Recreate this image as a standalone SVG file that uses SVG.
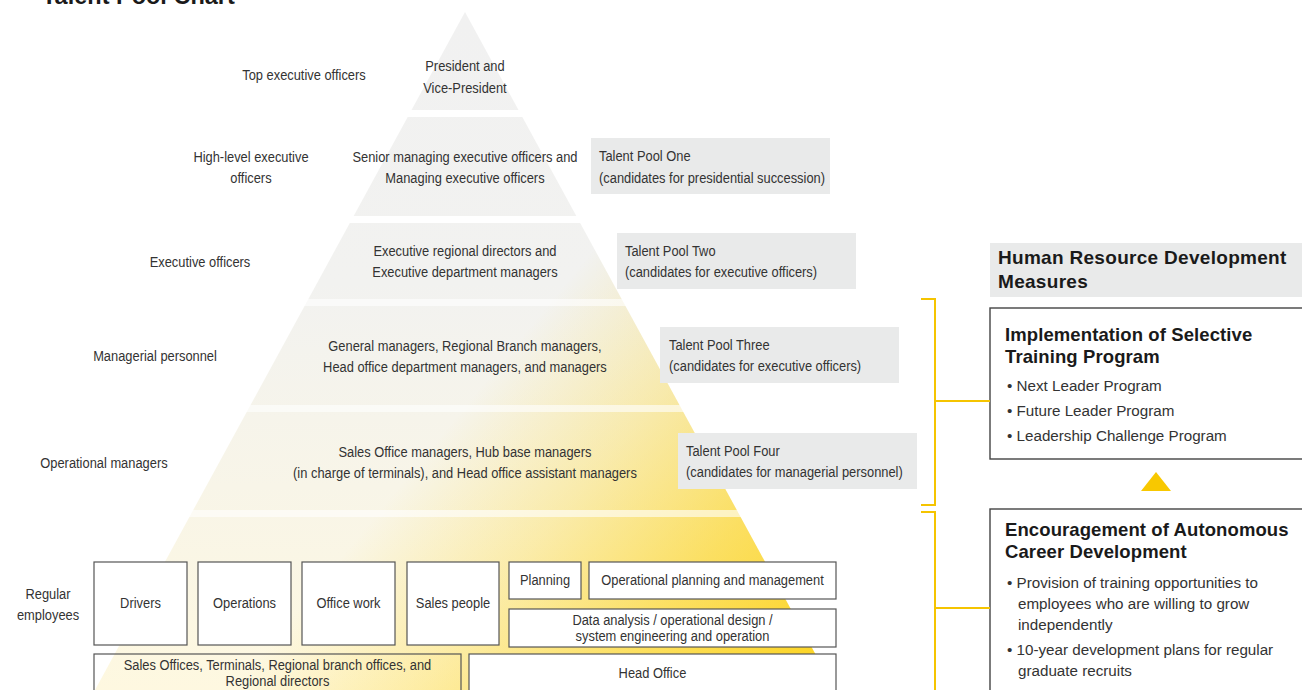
<svg xmlns="http://www.w3.org/2000/svg" width="1302" height="690" viewBox="0 0 1302 690">
  <style>
    .n { font-family: "Liberation Sans", Arial, sans-serif; font-size: 14px; fill: #333; }
    .c { text-anchor: middle; }
    .pool { fill: #e9eaea; }
    .box { fill: #fff; stroke: #555; stroke-width: 1.2; }
    .panel { fill: #fff; stroke: #444; stroke-width: 1.4; }
    .h { font-family: "Liberation Sans", Arial, sans-serif; font-weight: bold; fill: #1a1a1a; }
    .h1 { font-size: 19px; letter-spacing: 0.3px; }
    .h2 { font-size: 18.5px; letter-spacing: 0.1px; }
    .b { font-family: "Liberation Sans", Arial, sans-serif; font-size: 15.2px; fill: #333; }
    .brk { fill: none; stroke: #f5c400; stroke-width: 2; }
    .gap { fill: #fff; }
    .gap2 { fill: #fff; opacity: 0.6; }
  </style>
  <defs>
    <linearGradient id="baseGrad" gradientUnits="userSpaceOnUse" x1="0" y1="12" x2="0" y2="690">
      <stop offset="0" stop-color="#f1f1f1"/>
      <stop offset="0.4" stop-color="#f2f2f0"/>
      <stop offset="1" stop-color="#fef8e0"/>
    </linearGradient>
    <linearGradient id="goldGrad" gradientUnits="userSpaceOnUse" x1="380" y1="330" x2="820" y2="690">
      <stop offset="0" stop-color="#fcd31c" stop-opacity="0"/>
      <stop offset="0.2" stop-color="#fcd31c" stop-opacity="0"/>
      <stop offset="0.45" stop-color="#fcd31c" stop-opacity="0.3"/>
      <stop offset="0.7" stop-color="#fcd31c" stop-opacity="0.65"/>
      <stop offset="1" stop-color="#fcd31c" stop-opacity="1"/>
    </linearGradient>
  </defs>

  <rect width="1302" height="690" fill="#fff"/>

  <!-- heading, mostly above the top edge -->
  <text x="42" y="4" font-family="Liberation Sans, Arial, sans-serif" font-weight="bold" font-size="23.5" fill="#1a1a1a">Talent Pool Chart</text>

  <!-- pyramid body -->
  <g id="pyramid">
    <polygon points="465,12 95,690 835,690" fill="url(#baseGrad)"/>
    <polygon points="465,12 95,690 835,690" fill="url(#goldGrad)"/>
    <rect class="gap" x="0" y="110" width="900" height="7"/>
    <rect class="gap" x="0" y="216" width="900" height="7"/>
    <rect class="gap2" x="0" y="299" width="900" height="7"/>
    <rect class="gap2" x="0" y="405" width="900" height="7"/>
    <rect class="gap2" x="0" y="510" width="900" height="7"/>
  </g>

  <!-- condensed labels: x values are divided by the 0.92 horizontal scale -->
  <g id="level-labels" class="n">
    <g transform="scale(0.92,1)">
      <text class="c" x="330.4" y="80">Top executive officers</text>
      <text class="c" x="272.8" y="162">High-level executive</text>
      <text class="c" x="272.8" y="183">officers</text>
      <text class="c" x="217.4" y="267">Executive officers</text>
      <text class="c" x="168.5" y="361">Managerial personnel</text>
      <text class="c" x="113.0" y="468">Operational managers</text>
      <text class="c" x="52.2" y="599">Regular</text>
      <text class="c" x="52.2" y="620">employees</text>
    </g>
  </g>

  <g id="tier-top" class="n">
    <g transform="scale(0.92,1)">
      <text class="c" x="505.4" y="71">President and</text>
      <text class="c" x="505.4" y="93">Vice-President</text>
    </g>
  </g>
  <g id="tier-senior" class="n">
    <g transform="scale(0.92,1)">
      <text class="c" x="505.4" y="162">Senior managing executive officers and</text>
      <text class="c" x="505.4" y="183">Managing executive officers</text>
    </g>
  </g>
  <g id="tier-exec" class="n">
    <g transform="scale(0.92,1)">
      <text class="c" x="505.4" y="256">Executive regional directors and</text>
      <text class="c" x="505.4" y="277">Executive department managers</text>
    </g>
  </g>
  <g id="tier-managers" class="n">
    <g transform="scale(0.92,1)">
      <text class="c" x="505.4" y="351">General managers, Regional Branch managers,</text>
      <text class="c" x="505.4" y="372">Head office department managers, and managers</text>
    </g>
  </g>
  <g id="tier-operational" class="n">
    <g transform="scale(0.92,1)">
      <text class="c" x="505.4" y="457">Sales Office managers, Hub base managers</text>
      <text class="c" x="505.4" y="478">(in charge of terminals), and Head office assistant managers</text>
    </g>
  </g>

  <!-- talent pools -->
  <g id="pool-one">
    <rect class="pool" x="591" y="138" width="239" height="56"/>
    <g class="n" transform="scale(0.92,1)">
      <text x="651.1" y="161">Talent Pool One</text>
      <text x="651.1" y="183">(candidates for presidential succession)</text>
    </g>
  </g>
  <g id="pool-two">
    <rect class="pool" x="617" y="233" width="239" height="56"/>
    <g class="n" transform="scale(0.92,1)">
      <text x="679.3" y="256">Talent Pool Two</text>
      <text x="679.3" y="277">(candidates for executive officers)</text>
    </g>
  </g>
  <g id="pool-three">
    <rect class="pool" x="660" y="327" width="239" height="56"/>
    <g class="n" transform="scale(0.92,1)">
      <text x="727.2" y="350">Talent Pool Three</text>
      <text x="727.2" y="371">(candidates for executive officers)</text>
    </g>
  </g>
  <g id="pool-four">
    <rect class="pool" x="678" y="433" width="239" height="56"/>
    <g class="n" transform="scale(0.92,1)">
      <text x="745.7" y="456">Talent Pool Four</text>
      <text x="745.7" y="477">(candidates for managerial personnel)</text>
    </g>
  </g>

  <!-- regular employee job boxes -->
  <g id="job-drivers">
    <rect class="box" x="94" y="562" width="93" height="83"/>
    <text class="n c" transform="scale(0.92,1)" x="152.7" y="608">Drivers</text>
  </g>
  <g id="job-operations">
    <rect class="box" x="198" y="562" width="93" height="83"/>
    <text class="n c" transform="scale(0.92,1)" x="265.8" y="608">Operations</text>
  </g>
  <g id="job-office">
    <rect class="box" x="302" y="562" width="93" height="83"/>
    <text class="n c" transform="scale(0.92,1)" x="378.8" y="608">Office work</text>
  </g>
  <g id="job-sales">
    <rect class="box" x="407" y="562" width="92" height="83"/>
    <text class="n c" transform="scale(0.92,1)" x="492.4" y="608">Sales people</text>
  </g>
  <g id="job-planning">
    <rect class="box" x="509" y="562" width="72" height="37"/>
    <text class="n c" transform="scale(0.92,1)" x="592.4" y="585">Planning</text>
  </g>
  <g id="job-opplanning">
    <rect class="box" x="589" y="562" width="247" height="37"/>
    <text class="n c" transform="scale(0.92,1)" x="774.5" y="585">Operational planning and management</text>
  </g>
  <g id="job-data">
    <rect class="box" x="509" y="609" width="327" height="38"/>
    <g class="n" transform="scale(0.92,1)">
      <text class="c" x="731.0" y="625">Data analysis / operational design /</text>
      <text class="c" x="731.0" y="641">system engineering and operation</text>
    </g>
  </g>
  <g id="unit-regional">
    <rect class="box" x="94" y="654" width="367" height="50" fill-opacity="0"/>
    <g class="n" transform="scale(0.92,1)">
      <text class="c" x="301.6" y="670">Sales Offices, Terminals, Regional branch offices, and</text>
      <text class="c" x="301.6" y="686">Regional directors</text>
    </g>
  </g>
  <g id="unit-head">
    <rect class="box" x="469" y="654" width="367" height="50" fill="none"/>
    <text class="n c" transform="scale(0.92,1)" x="709.2" y="678">Head Office</text>
  </g>

  <!-- development measures panel -->
  <g id="measures-header">
    <rect class="pool" x="990" y="243" width="320" height="54"/>
    <text class="h h1" x="998" y="264">Human Resource Development</text>
    <text class="h h1" x="998" y="288">Measures</text>
  </g>
  <g id="measure-selective">
    <rect class="panel" x="990" y="308" width="320" height="151"/>
    <text class="h h2" x="1005" y="341">Implementation of Selective</text>
    <text class="h h2" x="1005" y="363">Training Program</text>
    <text class="b" x="1007" y="391">• Next Leader Program</text>
    <text class="b" x="1007" y="416">• Future Leader Program</text>
    <text class="b" x="1007" y="441">• Leadership Challenge Program</text>
  </g>
  <g id="measure-autonomous">
    <rect class="panel" x="990" y="509" width="320" height="200"/>
    <text class="h h2" x="1005" y="536">Encouragement of Autonomous</text>
    <text class="h h2" x="1005" y="558">Career Development</text>
    <text class="b" x="1007" y="588">• Provision of training opportunities to</text>
    <text class="b" x="1018" y="609">employees who are willing to grow</text>
    <text class="b" x="1018" y="630">independently</text>
    <text class="b" x="1007" y="655">• 10-year development plans for regular</text>
    <text class="b" x="1018" y="676">graduate recruits</text>
  </g>

  <!-- connectors: brackets and upward arrowhead -->
  <g id="connectors">
    <path class="brk" d="M921,299 H935 V505 H921 M935,401 H990"/>
    <path class="brk" d="M921,512 H935 V700 M935,608 H990"/>
    <polygon points="1156,472 1171,491 1141,491" fill="#f8c800"/>
  </g>
</svg>
